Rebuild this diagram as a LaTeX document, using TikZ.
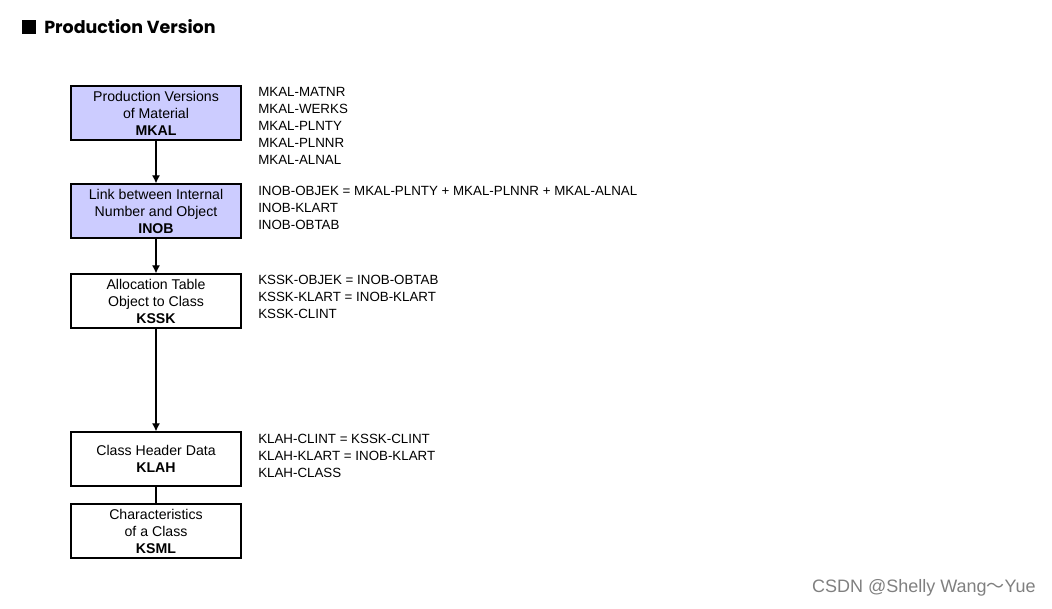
\documentclass[tikz,border=0pt]{standalone}
\usepackage{fontspec}
\setmainfont{Liberation Sans}
\newfontfamily\titlefont{Poppins}
\newfontfamily\cjkfont{Noto Sans CJK SC}
\usetikzlibrary{arrows.meta, positioning}
\definecolor{tablefill}{HTML}{CCCCFF}
\newcommand{\tabname}[1]{\textbf{#1}}

\begin{document}
\begin{tikzpicture}[
  x=0.75pt, y=-0.75pt,
  every node/.style = {font=\fontsize{10}{12.75}\selectfont},
  table/.style = {draw, line width=1pt, align=center, minimum width=127.5pt, minimum height=40.5pt, inner sep=0pt, font=\fontsize{10.6}{12.75}\selectfont},
  keyed/.style = {table, fill=tablefill},
  fields/.style = {align=left, anchor=north west, inner sep=0pt},
  link/.style = {line width=0.8pt},
  >={Latex[length=6pt, width=6pt]}
]
  \useasboundingbox (0,0) rectangle (1052,609);

  \node[fill=black, minimum size=10.5pt, inner sep=0pt] (mark) at (29,27) {};
  \node[anchor=west, inner sep=0pt, font=\titlefont\fontsize{13.1}{16}\selectfont\bfseries] (title) at (44,27) {Production Version};

  \node[keyed] (mkal) at (156,113) {Production Versions\\of Material\\\tabname{MKAL}};
  \node[keyed] (inob) at (156,211) {Link between Internal\\Number and Object\\\tabname{INOB}};
  \node[table] (kssk) at (156,301) {Allocation Table\\Object to Class\\\tabname{KSSK}};
  \node[table] (klah) at (156,459) {Class Header Data\\\tabname{KLAH}};
  \node[table] (ksml) at (156,531) {Characteristics\\of a Class\\\tabname{KSML}};

  \draw[link, ->] (mkal) -- (inob);
  \draw[link, ->] (inob) -- (kssk);
  \draw[link, ->] (kssk) -- (klah);
  \draw[link] (klah) -- (ksml);

  \node[fields] (mkalf) at (258,87.5) {MKAL-MATNR\\MKAL-WERKS\\MKAL-PLNTY\\MKAL-PLNNR\\MKAL-ALNAL};
  \node[fields] (inobf) at (258,185.5) {INOB-OBJEK = MKAL-PLNTY + MKAL-PLNNR + MKAL-ALNAL\\INOB-KLART\\INOB-OBTAB};
  \node[fields] (ksskf) at (258,274.5) {KSSK-OBJEK = INOB-OBTAB\\KSSK-KLART = INOB-KLART\\KSSK-CLINT};
  \node[fields] (klahf) at (258,433.5) {KLAH-CLINT = KSSK-CLINT\\KLAH-KLART = INOB-KLART\\KLAH-CLASS};

  \node[anchor=east, inner sep=0pt, text=gray, font=\fontsize{13.5}{16}\selectfont] (credit) at (1036,588) {CSDN @Shelly Wang{\cjkfont ～}Yue};
\end{tikzpicture}
\end{document}
